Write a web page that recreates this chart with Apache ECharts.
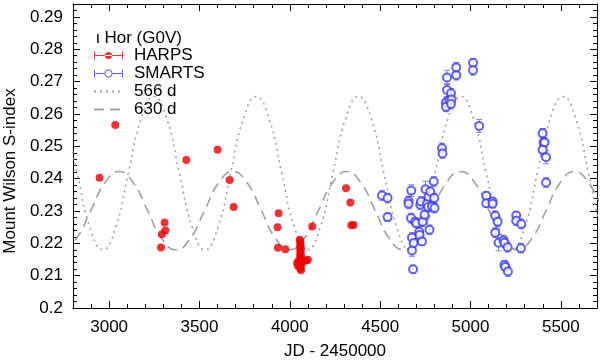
<!DOCTYPE html>
<html>
<head>
<meta charset="utf-8">
<script src="https://cdn.jsdelivr.net/npm/echarts@6/dist/echarts.min.js"></script>
<style>html,body{margin:0;padding:0;background:#fff}#chart{width:600px;height:360px}</style>
</head>
<body>
<div id="chart"></div>
<script>
// ---- data ----
const harpsX = [2947, 3034, 3287, 3292, 3307, 3311, 3427, 3600, 3667, 3689, 3938, 3932, 3934, 3975, 4124, 4311, 4335, 4340, 4353,
  4055, 4058, 4060, 4056, 4062, 4058, 4060, 4057, 4063, 4059, 4061, 4055, 4064, 4060, 4058, 4062, 4040, 4045, 4075, 4100, 4090, 4050, 4066];
const harpsY = [0.2403, 0.2566, 0.2187, 0.2228, 0.2264, 0.2240, 0.2458, 0.2489, 0.2396, 0.2312, 0.2293, 0.2250, 0.2186, 0.2182, 0.2252, 0.2370, 0.2326, 0.2256, 0.2257,
  0.2211, 0.2205, 0.2198, 0.2190, 0.2185, 0.2178, 0.2170, 0.2163, 0.2158, 0.2152, 0.2146, 0.2140, 0.2135, 0.2128, 0.2122, 0.2117, 0.2139, 0.2130, 0.2145, 0.2149, 0.2147, 0.2148, 0.2142];

const smartsX = [4510, 4541, 4541, 4657, 4657, 4672, 4671, 4676, 4676, 4682, 4685, 4694, 4700, 4716, 4718, 4731, 4722, 4726, 4735, 4746,
  4751, 4759, 4765, 4768, 4773, 4777, 4787, 4796, 4799, 4801, 4842, 4845, 4864, 4864, 4870, 4870, 4883, 4892, 4895, 4892,
  4921, 4921, 5014, 5014, 5048, 5087, 5087, 5122, 5122, 5137, 5150, 5137, 5155, 5183, 5188, 5205, 5188, 5192, 5207, 5253,
  5253, 5281, 5279, 5399, 5404, 5410, 5399, 5418, 5418];
const smartsY = [0.2348, 0.2340, 0.2281, 0.2331, 0.2322, 0.2363, 0.2278, 0.2218, 0.2178, 0.2120, 0.2201, 0.2267, 0.2262, 0.2236, 0.2226, 0.2206, 0.2319, 0.2329, 0.2267, 0.2288,
  0.2367, 0.2322, 0.2312, 0.2344, 0.2242, 0.2360, 0.2314, 0.2391, 0.2340, 0.2309, 0.2494, 0.2478, 0.2635, 0.2622, 0.2713, 0.2674, 0.2643, 0.2664, 0.2645, 0.2631,
  0.2744, 0.2720, 0.2758, 0.2735, 0.2563, 0.2347, 0.2324, 0.2329, 0.2322, 0.2285, 0.2267, 0.2233, 0.2202, 0.2209, 0.2202, 0.2188, 0.2134, 0.2127, 0.2113, 0.2286,
  0.2270, 0.2260, 0.2185, 0.2540, 0.2512, 0.2512, 0.2489, 0.2466, 0.2388];
const smartsErr = [0.0015, 0.0015, 0.0012, 0.0015, 0.0015, 0.0018, 0.0015, 0.0015, 0.0018, 0.0012, 0.0012, 0.0012, 0.0012, 0.0012, 0.0015, 0.0012, 0.0015, 0.0015, 0.0015, 0.0012,
  0.0025, 0.0015, 0.0015, 0.0015, 0.0015, 0.0015, 0.0015, 0.0015, 0.0015, 0.0015, 0.0015, 0.0015, 0.0015, 0.0015, 0.0022, 0.0020, 0.0015, 0.0015, 0.0015, 0.0015,
  0.0015, 0.0015, 0.0012, 0.0015, 0.0020, 0.0012, 0.0012, 0.0012, 0.0012, 0.0015, 0.0015, 0.0015, 0.0025, 0.0015, 0.0015, 0.0015, 0.0012, 0.0012, 0.0015, 0.0012,
  0.0015, 0.0015, 0.0015, 0.0015, 0.0015, 0.0015, 0.0015, 0.0020, 0.0015];

// 566 d model curve, read at peaks / troughs and intermediate points
const curve566X = [2682, 2753, 2823, 2894, 2965, 3036, 3106, 3177, 3248, 3319, 3389, 3460, 3531, 3602, 3672, 3743, 3814, 3885, 3955, 4026,
  4097, 4168, 4238, 4309, 4380, 4451, 4521, 4592, 4663, 4734, 4804, 4875, 4946, 5017, 5087, 5158, 5229, 5300, 5370, 5441, 5512, 5583, 5653, 5724, 5795];
const curve566Y = [0.2654, 0.2585, 0.2417, 0.2249, 0.2180, 0.2249, 0.2417, 0.2585, 0.2654, 0.2585, 0.2417, 0.2249, 0.2180, 0.2249, 0.2417, 0.2585, 0.2654, 0.2585, 0.2417, 0.2249,
  0.2180, 0.2249, 0.2417, 0.2585, 0.2654, 0.2585, 0.2417, 0.2249, 0.2180, 0.2249, 0.2417, 0.2585, 0.2654, 0.2585, 0.2417, 0.2249, 0.2180, 0.2249, 0.2417, 0.2585, 0.2654, 0.2585, 0.2417, 0.2249, 0.2180];
// 630 d model curve
const curve630X = [2740, 2819, 2898, 2976, 3055, 3134, 3213, 3291, 3370, 3449, 3528, 3606, 3685, 3764, 3843, 3921, 4000, 4079, 4158, 4236,
  4315, 4394, 4473, 4551, 4630, 4709, 4788, 4866, 4945, 5024, 5103, 5181, 5260, 5339, 5418, 5496, 5575, 5654, 5733];
const curve630Y = [0.2180, 0.2215, 0.2301, 0.2387, 0.2422, 0.2387, 0.2301, 0.2215, 0.2180, 0.2215, 0.2301, 0.2387, 0.2422, 0.2387, 0.2301, 0.2215, 0.2180, 0.2215, 0.2301, 0.2387,
  0.2422, 0.2387, 0.2301, 0.2215, 0.2180, 0.2215, 0.2301, 0.2387, 0.2422, 0.2387, 0.2301, 0.2215, 0.2180, 0.2215, 0.2301, 0.2387, 0.2422, 0.2387, 0.2301];

const xMajorTicks = [3000, 3500, 4000, 4500, 5000, 5500];
const xMinorTicks = [2900, 3100, 3200, 3300, 3400, 3600, 3700, 3800, 3900, 4100, 4200, 4300, 4400, 4600, 4700, 4800, 4900,
  5100, 5200, 5300, 5400, 5600];
const yMajorTicks = [0.2, 0.21, 0.22, 0.23, 0.24, 0.25, 0.26, 0.27, 0.28, 0.29];
const yMinorTicks = [0.202, 0.204, 0.206, 0.208, 0.212, 0.214, 0.216, 0.218, 0.222, 0.224, 0.226, 0.228, 0.232, 0.234, 0.236, 0.238,
  0.242, 0.244, 0.246, 0.248, 0.252, 0.254, 0.256, 0.258, 0.262, 0.264, 0.266, 0.268, 0.272, 0.274, 0.276, 0.278,
  0.282, 0.284, 0.286, 0.288, 0.292];

const legendTitle = 'ι Hor (G0V)';
const seriesNames = ['HARPS', 'SMARTS', '566 d', '630 d'];

// ---- chart ----
const FONT = 'Liberation Sans, Arial, Helvetica, sans-serif';
const XMIN = 2800, XMAX = 5700, YMIN = 0.2, YMAX = 0.294;
const zip = (a, b) => a.map((v, i) => [v, b[i]]);

function xAxisDef(pos, ticks, len, major) {
  return {
    type: 'value', position: pos, min: XMIN, max: XMAX, gridIndex: 0,
    axisLine: { show: major, onZero: false, lineStyle: { color: '#000', width: 1 } },
    axisTick: { show: true, inside: true, length: len, customValues: ticks, lineStyle: { color: '#000', width: 1 } },
    axisLabel: (pos === 'bottom' && major) ? {
      show: true, customValues: xMajorTicks, color: '#000', fontSize: 17, fontFamily: FONT, margin: 11,
      formatter: v => String(v)
    } : { show: false },
    splitLine: { show: false }
  };
}
function yAxisDef(pos, ticks, len, major) {
  return {
    type: 'value', position: pos, min: YMIN, max: YMAX, gridIndex: 0,
    axisLine: { show: major, onZero: false, lineStyle: { color: '#000', width: 1 } },
    axisTick: { show: true, inside: true, length: len, customValues: ticks, lineStyle: { color: '#000', width: 1 } },
    axisLabel: (pos === 'left' && major) ? {
      show: true, customValues: yMajorTicks, color: '#000', fontSize: 17, fontFamily: FONT, margin: 10,
      formatter: v => String(+v.toFixed(3))
    } : { show: false },
    splitLine: { show: false }
  };
}

const xAxes = [
  xAxisDef('bottom', xMajorTicks, 7, true),
  xAxisDef('bottom', xMinorTicks, 4, false),
  xAxisDef('top', xMajorTicks, 7, true),
  xAxisDef('top', xMinorTicks, 4, false)
];
Object.assign(xAxes[0], {
  name: 'JD - 2450000', nameLocation: 'middle', nameGap: 35,
  nameTextStyle: { color: '#000', fontSize: 17, fontFamily: FONT }
});
const yAxes = [
  yAxisDef('left', yMajorTicks, 7, true),
  yAxisDef('left', yMinorTicks, 4, false),
  yAxisDef('right', yMajorTicks, 7, true),
  yAxisDef('right', yMinorTicks, 4, false)
];
Object.assign(yAxes[0], {
  name: 'Mount Wilson S-index', nameLocation: 'middle', nameGap: 43,
  nameTextStyle: { color: '#000', fontSize: 17, fontFamily: FONT, padding: [0, 30, 0, 0] }
});

const harpsIcon = 'path://M0,3.5L29,3.5L29,4.5L0,4.5Z M0,0L1,0L1,8L0,8Z M28,0L29,0L29,8L28,8Z M11,4A3.5,3.5,0,1,0,18,4A3.5,3.5,0,1,0,11,4Z';
const smartsIcon = 'path://M0,3.5L10.5,3.5L10.5,4.5L0,4.5Z M18.5,3.5L29,3.5L29,4.5L18.5,4.5Z M0,0L1,0L1,8L0,8Z M28,0L29,0L29,8L28,8Z M10.5,4A4,4,0,1,0,18.5,4A4,4,0,1,0,10.5,4Z M11.5,4A3,3,0,1,1,17.5,4A3,3,0,1,1,11.5,4Z';

const chart = echarts.init(document.getElementById('chart'), null, { renderer: 'canvas' });
chart.setOption({
  animation: false,
  backgroundColor: '#fff',
  title: {
    text: legendTitle, left: 96, top: 30, padding: 0,
    textStyle: { color: '#000', fontSize: 17, fontWeight: 'normal', fontFamily: FONT }
  },
  legend: {
    orient: 'vertical', left: 93, top: 47, padding: 0, itemGap: 1,
    itemWidth: 29, itemHeight: 8,
    textStyle: { color: '#000', fontSize: 17, fontFamily: FONT, padding: [0, 0, 0, 6] },
    itemStyle: { borderWidth: 0 },
    data: [
      { name: seriesNames[0], icon: harpsIcon, itemStyle: { color: '#ee0000' } },
      { name: seriesNames[1], icon: smartsIcon, itemStyle: { color: '#3c3cf0' } },
      { name: seriesNames[2], itemStyle: { color: 'rgba(0,0,0,0)', opacity: 0 } },
      { name: seriesNames[3], itemStyle: { color: 'rgba(0,0,0,0)', opacity: 0 } }
    ]
  },
  grid: { left: 73, right: 3, top: 4, bottom: 52, containLabel: false, outerBoundsMode: 'none' },
  xAxis: xAxes,
  yAxis: yAxes,
  series: [
    {
      name: seriesNames[2], type: 'line', smooth: true, symbol: 'none', clip: true,
      data: zip(curve566X, curve566Y),
      lineStyle: { color: '#a0a0a0', width: 1.6, type: [2, 4] },
      itemStyle: { color: '#a0a0a0' }, z: 1
    },
    {
      name: seriesNames[3], type: 'line', smooth: true, symbol: 'none', clip: true,
      data: zip(curve630X, curve630Y),
      lineStyle: { color: '#a0a0a0', width: 1.6, type: [10, 6] },
      itemStyle: { color: '#a0a0a0' }, z: 1
    },
    {
      name: 'SMARTS errors', type: 'custom', clip: true, z: 2,
      data: smartsX.map((x, i) => [x, smartsY[i] - smartsErr[i], smartsY[i] + smartsErr[i]]),
      renderItem: function (params, api) {
        const x = api.value(0);
        const lo = api.coord([x, api.value(1)]);
        const hi = api.coord([x, api.value(2)]);
        const c = '#8080f0', w = 3;
        return {
          type: 'group', children: [
            { type: 'line', shape: { x1: lo[0], y1: lo[1], x2: hi[0], y2: hi[1] }, style: { stroke: c, lineWidth: 1 } },
            { type: 'line', shape: { x1: lo[0] - w, y1: lo[1], x2: lo[0] + w, y2: lo[1] }, style: { stroke: c, lineWidth: 1 } },
            { type: 'line', shape: { x1: hi[0] - w, y1: hi[1], x2: hi[0] + w, y2: hi[1] }, style: { stroke: c, lineWidth: 1 } }
          ]
        };
      }
    },
    {
      name: seriesNames[1], type: 'scatter', symbol: 'emptyCircle', symbolSize: 8, z: 3,
      data: zip(smartsX, smartsY),
      itemStyle: { color: '#3c3cf0', borderColor: '#3c3cf0', borderWidth: 1 }
    },
    {
      name: seriesNames[0], type: 'scatter', symbol: 'circle', symbolSize: 8, z: 4,
      data: zip(harpsX, harpsY),
      itemStyle: { color: '#ee0000' }
    }
  ]
});
</script>
</body>
</html>
